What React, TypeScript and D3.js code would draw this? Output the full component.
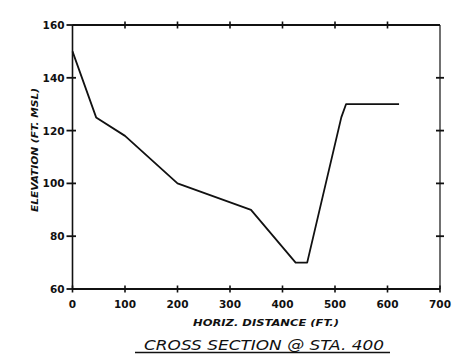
import React from "react";
import * as d3 from "d3";

const distances = [0, 45, 100, 200, 340, 425, 447, 512, 521, 622];
const elevations = [150, 125, 118, 100, 90, 70, 70, 125, 130, 130];
const xTicks = [0, 100, 200, 300, 400, 500, 600, 700];
const yTicks = [60, 80, 100, 120, 140, 160];
const xTitle = "HORIZ. DISTANCE (FT.)";
const yTitle = "ELEVATION (FT. MSL)";
const chartTitle = "CROSS SECTION @ STA. 400";

export default function App() {
  const W = 459, H = 360;
  const x = d3.scaleLinear().domain([0, 700]).range([72.5, 440]);
  const y = d3.scaleLinear().domain([60, 160]).range([289, 25]);
  const pts: [number, number][] = distances.map((d, i) => [d, elevations[i]]);
  const line = d3.line<[number, number]>().x(d => x(d[0])).y(d => y(d[1]));
  const font = "'DejaVu Sans', sans-serif";
  const x0 = x(0), x1 = x(700), y0 = y(60), y1 = y(160);
  return (
    <svg width={W} height={H} style={{ position: "absolute", left: 0, top: 0, background: "#fff" }}>
      <rect x={0} y={0} width={W} height={H} fill="#fff" />
      {/* frame */}
      <line x1={x0} y1={y0} x2={x1} y2={y0} stroke="#111" strokeWidth={2} />
      <line x1={x0} y1={y1} x2={x1} y2={y1} stroke="#111" strokeWidth={1.8} />
      <line x1={x0} y1={y0} x2={x0} y2={y1} stroke="#111" strokeWidth={1.6} />
      <line x1={x1} y1={y0} x2={x1} y2={y1} stroke="#111" strokeWidth={1.2} />
      {/* x ticks */}
      {xTicks.map(t => (
        <g key={"x" + t}>
          <line x1={x(t)} x2={x(t)} y1={y0 - 3.5} y2={y0 + 3.5} stroke="#111" strokeWidth={1.6} />
          {t > 0 && t < 700 && (
            <line x1={x(t)} x2={x(t)} y1={y1 - 3.5} y2={y1 + 3.5} stroke="#111" strokeWidth={1.6} />
          )}
          <text x={x(t)} y={y0 + 19} textAnchor="middle" fontFamily={font} fontWeight="bold" fontSize={10.5} fill="#111">{t}</text>
        </g>
      ))}
      {/* y ticks */}
      {yTicks.map(t => (
        <g key={"y" + t}>
          <line x1={x0 - 6} x2={x0 + 3.5} y1={y(t)} y2={y(t)} stroke="#111" strokeWidth={1.8} />
          {t > 60 && t < 160 && (
            <line x1={x1 - 4} x2={x1 + 4} y1={y(t)} y2={y(t)} stroke="#111" strokeWidth={1.8} />
          )}
          <text x={x0 - 8} y={y(t) + 4} textAnchor="end" fontFamily={font} fontWeight="bold" fontSize={10.5} fill="#111">{t}</text>
        </g>
      ))}
      {/* data */}
      <path d={line(pts) || ""} fill="none" stroke="#111" strokeWidth={1.8} strokeLinejoin="round" />
      {/* titles */}
      <text x={266} y={326} textAnchor="middle" fontFamily={font} fontStyle="italic" fontWeight="bold" fontSize={9.5} textLength={146} lengthAdjust="spacingAndGlyphs" fill="#111">{xTitle}</text>
      <text transform={`translate(37.5,150) rotate(-90)`} textAnchor="middle" fontFamily={font} fontStyle="italic" fontWeight="bold" fontSize={9.5} textLength={124} lengthAdjust="spacingAndGlyphs" fill="#111">{yTitle}</text>
      <text x={264} y={349.5} textAnchor="middle" fontFamily={font} fontStyle="italic" fontSize={14} textLength={240} lengthAdjust="spacingAndGlyphs" fill="#111">{chartTitle}</text>
      <line x1={135} x2={390} y1={352.5} y2={352.5} stroke="#111" strokeWidth={1.5} />
    </svg>
  );
}
